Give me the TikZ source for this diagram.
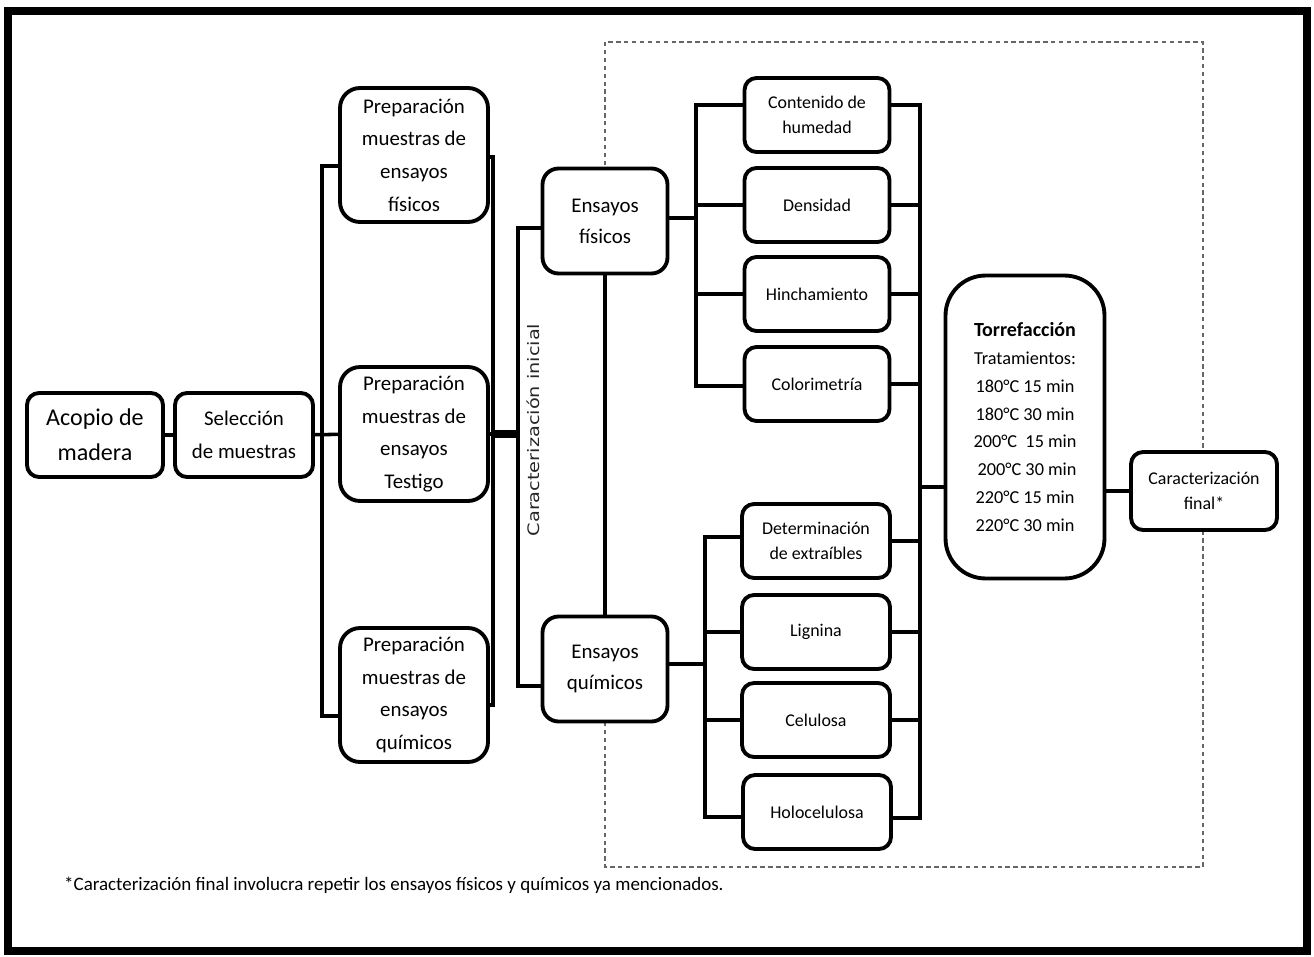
\documentclass[tikz,border=0pt]{standalone}
\usepackage{fontspec}
\setmainfont{Carlito}
\newfontfamily\dejavu{DejaVu Sans}
\usetikzlibrary{calc}
\newcommand{\txtbig}{\fontsize{13.7pt}{19.9pt}\selectfont}
\newcommand{\txtprep}{\fontsize{11.9pt}{18.6pt}\selectfont}
\newcommand{\txtens}{\fontsize{11.9pt}{17.6pt}\selectfont}
\newcommand{\txtsmall}{\fontsize{10.2pt}{14.6pt}\selectfont}
\newcommand{\txttorr}{\fontsize{10.4pt}{15.9pt}\selectfont}
\newcommand{\txtnote}{\fontsize{10.8pt}{13pt}\selectfont}
\tikzstyle{box}=[rectangle, rounded corners=0.24cm, draw=black, line width=2.2pt, fill=white, align=center, inner sep=0pt, anchor=center]
\tikzstyle{startbox}=[box, minimum height=1.68cm, font=\txtprep]
\tikzstyle{prepbox}=[box, rounded corners=0.4cm, minimum width=2.96cm, minimum height=2.68cm, font=\txtprep]
\tikzstyle{ensbox}=[box, rounded corners=0.32cm, minimum width=2.5cm, minimum height=2.1cm, font=\txtens]
\tikzstyle{testbox}=[box, minimum width=2.9cm, minimum height=1.48cm, font=\txtsmall]
\tikzstyle{conn}=[line width=2pt]
\tikzstyle{thickconn}=[line width=4pt]
\begin{document}
\begin{tikzpicture}[x=0.02cm, y=-0.02cm]
	\useasboundingbox (0,0) rectangle (1314,956);
	\draw[line width=4.5pt] (8,11) rectangle (1307,951);
	\draw[dashed, black!60, line width=0.6pt, dash pattern=on 2.5pt off 2pt] (605,42) rectangle (1203,867);

	% inicio
	\node[startbox, minimum width=2.72cm, font=\txtbig] (acopio) at (95,435) {Acopio de\\madera};
	\node[startbox, minimum width=2.76cm] (seleccion) at (244,435) {Selección\\de muestras};

	% preparacion de muestras
	\node[prepbox] (prepfis) at (414,155) {Preparación\\muestras de\\ensayos\\físicos};
	\node[prepbox] (preptes) at (414,434) {Preparación\\muestras de\\ensayos\\Testigo};
	\node[prepbox] (prepqui) at (414,695) {Preparación\\muestras de\\ensayos\\químicos};

	\node[rotate=90, text=black!85, font=\dejavu\fontsize{9pt}{10pt}\selectfont] (cinicial) at (533,430) {\scalebox{1.22}[1]{Caracterización inicial}};

	% ensayos
	\node[ensbox] (ensfis) at (605,221) {Ensayos\\físicos};
	\node[ensbox] (ensqui) at (605,669) {Ensayos\\químicos};

	\node[testbox] (humedad) at (817,115) {Contenido de\\humedad};
	\node[testbox] (densidad) at (817,205) {Densidad};
	\node[testbox] (hinch) at (817,294) {Hinchamiento};
	\node[testbox] (color) at (817,384) {Colorimetría};

	\node[testbox, minimum width=2.96cm] (extra) at (816,541) {Determinación\\de extraíbles};
	\node[testbox, minimum width=2.96cm] (lignina) at (816,632) {Lignina};
	\node[testbox, minimum width=2.96cm] (celulosa) at (816,720) {Celulosa};
	\node[testbox, minimum width=2.96cm] (holo) at (817,812) {Holocelulosa};

	% torrefaccion
	\node[box, rounded corners=0.8cm, minimum width=3.18cm, minimum height=6.06cm, font=\txttorr] (torre) at (1025,427) {{\fontsize{11.4pt}{15.9pt}\selectfont\bfseries Torrefacción}\\Tratamientos:\\180°C 15 min\\180°C 30 min\\200°C\ \ 15 min\\\ 200°C 30 min\\220°C 15 min\\220°C 30 min};
	\node[box, minimum width=2.92cm, minimum height=1.56cm, font=\txtsmall] (final) at (1204,491) {Caracterización\\final*};

	\node[anchor=west, font=\txtnote] (nota) at (58,885) {*Caracterización final involucra repetir los ensayos físicos y químicos ya mencionados.};

	% puntos de los corchetes
	\coordinate (pl1) at (322,166);
	\coordinate (pl2) at (322,716);
	\coordinate (pr1) at (493,157);
	\coordinate (pr2) at (493,705);
	\coordinate (ci1) at (518,228);
	\coordinate (ci2) at (518,686);
	\coordinate (fl1) at (696,105);
	\coordinate (fl2) at (696,386);
	\coordinate (ql1) at (705,537);
	\coordinate (ql2) at (705,817);
	\coordinate (rb1) at (920,105);
	\coordinate (rb2) at (920,818);
	\coordinate (rbt) at (920,487);

	\draw[conn] (acopio) -- (seleccion);
	\draw[conn] (seleccion) -- (preptes);
	\draw[conn] (prepfis.west |- pl1) -- (pl1) -- (pl2) -- (prepqui.west |- pl2);
	\draw[conn] (prepfis.east |- pr1) -- (pr1) -- (pr2) -- (prepqui.east |- pr2);
	\draw[conn] (preptes.east) -- (preptes.east -| pr1);
	\draw[thickconn] (preptes.east -| pr1) -- (preptes.east -| ci1);
	\draw[conn] (ensfis.west |- ci1) -- (ci1) -- (ci2) -- (ensqui.west |- ci2);
	\draw[conn] (ensfis) -- (ensqui);

	\draw[conn] (ensfis.east) ++(0,-3) -- ($(ensfis.east -| fl1)+(0,-3)$);
	\draw[conn] (humedad.west |- fl1) -- (fl1) -- (fl2) -- (color.west |- fl2);
	\draw[conn] (densidad.west) -- (densidad.west -| fl1);
	\draw[conn] (hinch.west) -- (hinch.west -| fl1);

	\draw[conn] (ensqui.east) ++(0,-5) -- ($(ensqui.east -| ql1)+(0,-5)$);
	\draw[conn] (extra.west |- ql1) -- (ql1) -- (ql2) -- (holo.west |- ql2);
	\draw[conn] (lignina.west) -- (lignina.west -| ql1);
	\draw[conn] (celulosa.west) -- (celulosa.west -| ql1);

	\draw[conn] (humedad.east |- rb1) -- (rb1) -- (rb2) -- (holo.east |- rb2);
	\foreach \n in {densidad,hinch,color,extra,lignina,celulosa}
		\draw[conn] (\n.east) -- (\n.east -| rb1);
	\draw[conn] (rbt) -- (torre.west |- rbt);
	\draw[conn] (torre.east |- final.west) -- (final.west);
\end{tikzpicture}
\end{document}
